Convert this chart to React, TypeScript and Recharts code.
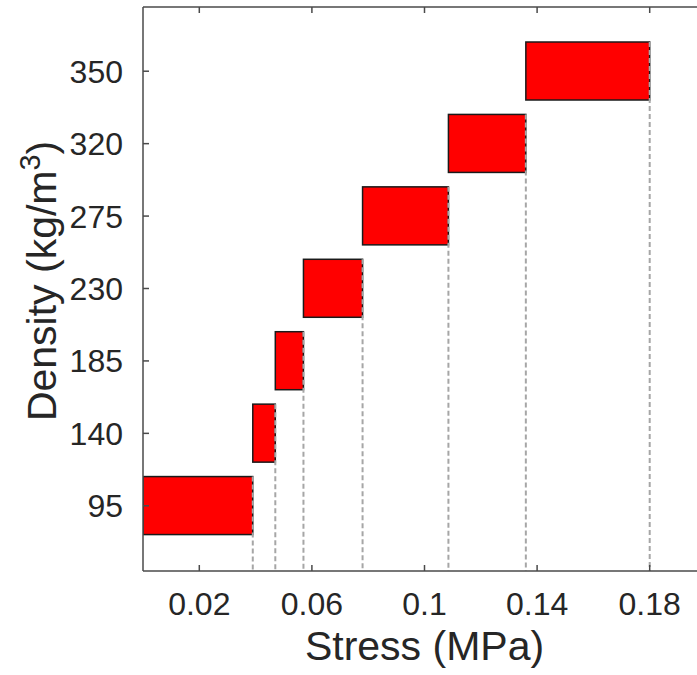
import React from 'react';
import * as R from 'recharts';

const { BarChart, Bar, XAxis, YAxis } = R as any;

// ---- data ----
const densityLabels = ['95', '140', '185', '230', '275', '320', '350'];
const stressStart = [0, 0.039, 0.047, 0.057, 0.078, 0.1085, 0.136];
const stressEnd = [0.039, 0.047, 0.057, 0.078, 0.1085, 0.136, 0.18];
const xTicks = [0.02, 0.06, 0.1, 0.14, 0.18];
const xTickLabels = ['0.02', '0.06', '0.1', '0.14', '0.18'];
const xDomain = [0, 0.2];

const data = densityLabels.map((d, i) => ({
  density: d,
  range: [stressStart[i], stressEnd[i]],
}));

// ---- layout / style ----
const CHART_W = 706;
const CHART_H = 675;
const MARGIN = { top: 6, right: 0, bottom: 0, left: 0 };
const TOP_AXIS_H = 1;
const Y_AXIS_W = 143;
const X_AXIS_H = 104;
const PLOT_BOTTOM = CHART_H - MARGIN.bottom - X_AXIS_H;
const FONT = '"Liberation Sans", Arial, Helvetica, sans-serif';
const TEXT = '#262626';
const AXIS = '#4a4a4a';
const TICK_FS = 32;
const LABEL_FS = 41;
const TICK_LEN = 6;

const usePlotAreaSafe: () => any = (R as any).usePlotArea ?? (() => undefined);

function RangeBar(props: any) {
  const { x, y, width, height } = props;
  const plot = usePlotAreaSafe();
  const bottom = plot ? plot.y + plot.height : PLOT_BOTTOM;
  const x0 = Math.min(x, x + width);
  const w = Math.abs(width);
  const y0 = Math.min(y, y + height);
  const h = Math.abs(height);
  const xe = x0 + w;
  return (
    <g>
      <rect x={x0} y={y0} width={w} height={h} fill="#ff0000" stroke="#1a1a1a" strokeWidth={1.5} />
      <line x1={xe} y1={y0} x2={xe} y2={bottom} stroke="#a6a6a6" strokeWidth={2} strokeDasharray="5 3" />
    </g>
  );
}

const BOTTOM_TICK_MARGIN = 10;
function BottomTick(props: any) {
  const { x, y, payload } = props;
  const axisY = y - BOTTOM_TICK_MARGIN;
  const idx = xTicks.indexOf(payload.value);
  const label = idx >= 0 ? xTickLabels[idx] : String(payload.value);
  return (
    <g>
      <line x1={x} y1={axisY} x2={x} y2={axisY - TICK_LEN} stroke={AXIS} strokeWidth={1.5} />
      <text x={x} y={axisY + 44} textAnchor="middle" fontFamily={FONT} fontSize={TICK_FS} fill={TEXT}>
        {label}
      </text>
    </g>
  );
}

function TopTick(props: any) {
  const { x, y } = props;
  return <line x1={x} y1={y} x2={x} y2={y + TICK_LEN} stroke={AXIS} strokeWidth={1.5} />;
}

const LEFT_TICK_MARGIN = 20;
function LeftTick(props: any) {
  const { x, y, payload } = props;
  const axisX = x + LEFT_TICK_MARGIN;
  return (
    <g>
      <line x1={axisX} y1={y} x2={axisX + TICK_LEN} y2={y} stroke={AXIS} strokeWidth={1.5} />
      <text x={x} y={y} dy="0.36em" textAnchor="end" fontFamily={FONT} fontSize={TICK_FS} fill={TEXT}>
        {payload.value}
      </text>
    </g>
  );
}

function YLabel(props: any) {
  const vb = props.viewBox || { x: 0, y: MARGIN.top, width: Y_AXIS_W, height: PLOT_BOTTOM - MARGIN.top };
  const cx = vb.x + 56;
  const cy = vb.y + vb.height / 2 - 8;
  return (
    <text
      x={cx}
      y={cy}
      transform={`rotate(-90, ${cx}, ${cy})`}
      textAnchor="middle"
      fontFamily={FONT}
      fontSize={LABEL_FS}
      fill={TEXT}
    >
      Density (kg/m
      <tspan dy={-16} fontSize={LABEL_FS * 0.7}>3</tspan>
      <tspan dy={16}>)</tspan>
    </text>
  );
}

function XLabel(props: any) {
  const vb = props.viewBox || { x: Y_AXIS_W, y: PLOT_BOTTOM, width: CHART_W - Y_AXIS_W, height: X_AXIS_H };
  const cx = vb.x + vb.width / 2;
  const cy = vb.y + 89;
  return (
    <text x={cx} y={cy} textAnchor="middle" fontFamily={FONT} fontSize={LABEL_FS} fill={TEXT}>
      Stress (MPa)
    </text>
  );
}

export default function App() {
  return (
    <div
      style={{
        position: 'absolute',
        left: 0,
        top: 0,
        width: 697,
        height: 675,
        overflow: 'hidden',
        background: '#ffffff',
      }}
    >
      <BarChart width={CHART_W} height={CHART_H} data={data} layout="vertical" margin={MARGIN}>
        <XAxis
          type="number"
          dataKey="range"
          domain={xDomain}
          ticks={xTicks}
          allowDataOverflow
          height={X_AXIS_H}
          axisLine={{ stroke: AXIS, strokeWidth: 1.5 }}
          tickLine={false}
          tickSize={0}
          tickMargin={BOTTOM_TICK_MARGIN}
          tick={<BottomTick />}
          interval={0}
          label={{ content: (p: any) => <XLabel {...p} /> }}
        />
        <XAxis
          xAxisId="top"
          orientation="top"
          type="number"
          dataKey="range"
          domain={xDomain}
          ticks={xTicks}
          allowDataOverflow
          height={TOP_AXIS_H}
          axisLine={{ stroke: AXIS, strokeWidth: 1.5 }}
          tickLine={false}
          tickSize={0}
          tickMargin={0}
          tick={<TopTick />}
          interval={0}
        />
        <YAxis
          type="category"
          dataKey="density"
          reversed
          width={Y_AXIS_W}
          padding={{ top: 28, bottom: 29 }}
          axisLine={{ stroke: AXIS, strokeWidth: 1.5 }}
          tickLine={false}
          tickSize={0}
          tickMargin={LEFT_TICK_MARGIN}
          tick={<LeftTick />}
          interval={0}
          label={{ content: (p: any) => <YLabel {...p} /> }}
        />
        <Bar dataKey="range" barSize={58} isAnimationActive={false} shape={(p: any) => <RangeBar {...p} />} />
      </BarChart>
    </div>
  );
}
